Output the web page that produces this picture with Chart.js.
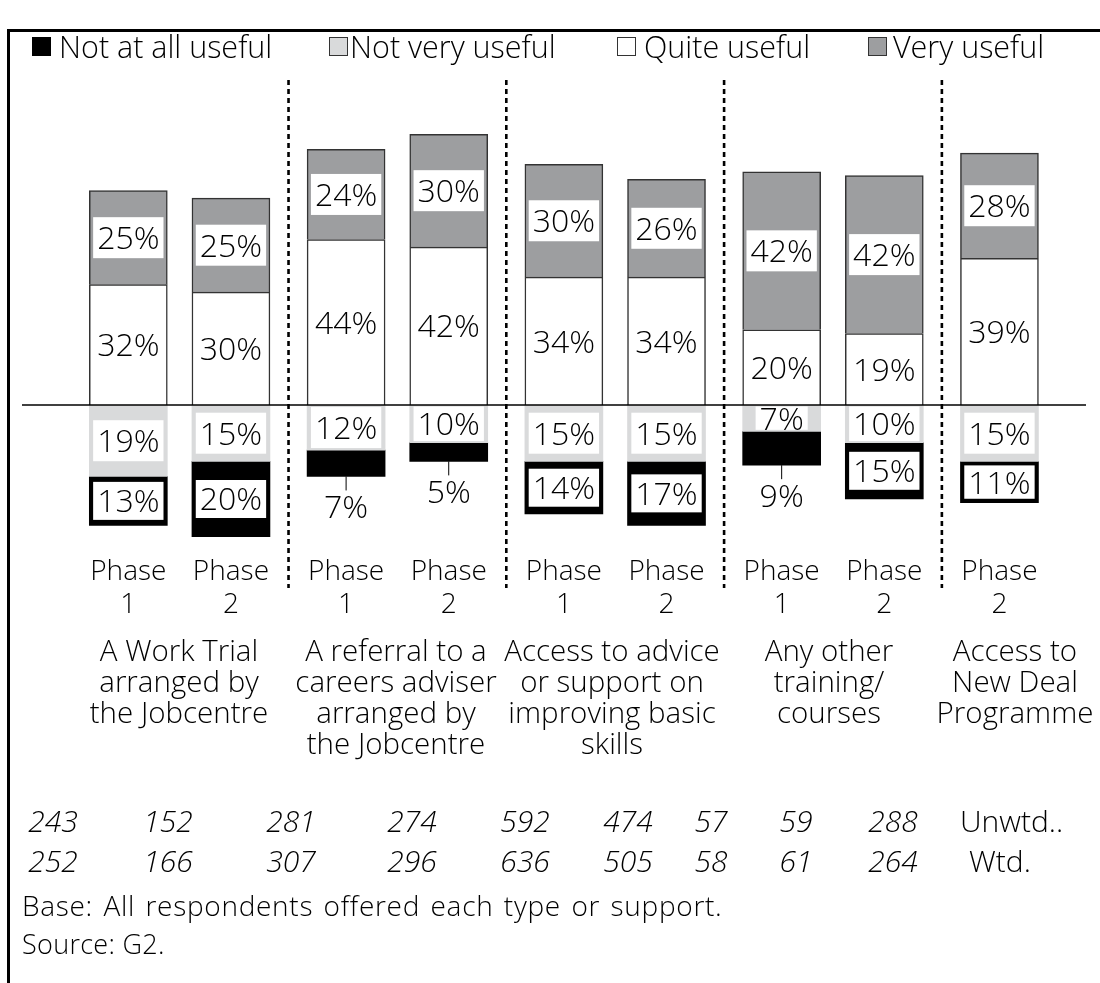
<!DOCTYPE html>
<html><head><meta charset="utf-8">
<script src="https://cdn.jsdelivr.net/npm/chart.js@4.4.0/dist/chart.umd.min.js"></script>
<style>
html,body{margin:0;padding:0;background:#fff;}
#wrap{position:relative;width:1100px;height:983px;overflow:hidden;font-family:"Open Sans",sans-serif;font-weight:300;color:#000;}
#c{position:absolute;left:0;top:0;}
.frame{position:absolute;left:7px;top:29px;width:1200px;height:1100px;border-top:3px solid #000;border-left:3px solid #000;}
.t{position:absolute;white-space:nowrap;}
.box{position:absolute;width:19px;height:19px;box-sizing:border-box;}
</style></head><body>
<div id="wrap">
<canvas id="c" width="1100" height="983"></canvas>
<div class="frame"></div>
<div id="overlay"></div>
</div>
<script>
// ---- data ----
const categories = ["Phase 1","Phase 2","Phase 1","Phase 2","Phase 1","Phase 2","Phase 1","Phase 2","Phase 2"];
const phaseNumbers = ["1","2","1","2","1","2","1","2","2"];
const groupOfBar = [0,0,1,1,2,2,3,3,4];
const groupLabels = [
  ["A Work Trial","arranged by","the Jobcentre"],
  ["A referral to a","careers adviser","arranged by","the Jobcentre"],
  ["Access to advice","or support on","improving basic","skills"],
  ["Any other","training/","courses"],
  ["Access to","New Deal","Programme"]
];
const seriesNames = ["Not at all useful","Not very useful","Quite useful","Very useful"];
const quiteUseful    = [32,30,44,42,34,34,20,19,39];
const veryUseful     = [25,25,24,30,30,26,42,42,28];
const notVeryUseful  = [19,15,12,10,15,15,7,10,15];
const notAtAllUseful = [13,20,7,5,14,17,9,15,11];
const unweightedBase = [243,152,281,274,592,474,57,59,288];
const weightedBase   = [252,166,307,296,636,505,58,61,264];
const baseRowLabels  = ["Unwtd..","Wtd."];
const footnotes = ["Base: All respondents offered each type or support.","Source: G2."];

// ---- styles / layout constants ----
const FONT = '"Open Sans", sans-serif';
const WEIGHT = '300';
const C_BLACK = '#000000', C_LIGHT = '#d9dadb', C_WHITE = '#ffffff', C_GREY = '#9d9ea0', C_EDGE = '#333333';
const GROUP_GAP = 0.122;   // extra space between groups, in bar slots

// position of each bar on the index axis: its slot plus the gaps of the groups before it
const slot = categories.map((c, i) => i + GROUP_GAP * groupOfBar[i]);
const toPoints = arr => arr.map((v, i) => ({x: slot[i], y: v}));

// ---- HTML text helpers ----
const overlay = document.getElementById('overlay');
function addText(txt, x, baseline, fs, opts = {}) {
  const d = document.createElement('div');
  d.className = 't';
  d.textContent = txt;
  d.style.fontSize = fs + 'px';
  d.style.lineHeight = fs + 'px';
  d.style.top = (baseline - 0.888 * fs) + 'px';
  if (opts.italic) d.style.fontStyle = 'italic';
  if (opts.ls) d.style.letterSpacing = opts.ls + 'px';
  if (opts.ws) d.style.wordSpacing = opts.ws + 'px';
  d.style.left = x + 'px';
  if (opts.center) { d.style.transform = 'translateX(-50%)'; d.style.textAlign = 'center'; }
  overlay.appendChild(d);
  return d;
}
function addBox(x, y, fill, border) {
  const b = document.createElement('div');
  b.className = 'box';
  b.style.left = x + 'px'; b.style.top = y + 'px';
  b.style.background = fill;
  if (border) b.style.border = '1.5px solid ' + border;
  overlay.appendChild(b);
}

// legend
const legendItems = [
  {box: 32, text: 59, fill: C_BLACK, border: null},
  {box: 329, text: 350, fill: C_LIGHT, border: '#333'},
  {box: 617, text: 644, fill: C_WHITE, border: '#333'},
  {box: 868, text: 893, fill: C_GREY, border: '#333'}
];
legendItems.forEach((it, i) => {
  addBox(it.box, 37, it.fill, it.border);
  addText(seriesNames[i], it.text, 58, 30.5);
});

// group labels
const groupCenters = [179, 396, 612, 829, 1015];
groupLabels.forEach((lines, g) => {
  lines.forEach((ln, k) => addText(ln, groupCenters[g], 661 + k * 31, 29.5, {center: true}));
});

// base rows
const baseCenters = [53, 168, 291, 412, 525, 628, 711, 796, 893];
unweightedBase.forEach((v, i) => addText(String(v), baseCenters[i], 833, 30, {italic: true, center: true}));
weightedBase.forEach((v, i) => addText(String(v), baseCenters[i], 873, 30, {italic: true, center: true}));
addText(baseRowLabels[0], 960, 833, 30);
addText(baseRowLabels[1], 969, 873, 30);
addText(footnotes[0], 22, 916, 28, {ls: 0.7, ws: 2.5});
addText(footnotes[1], 22, 954, 27, {ls: 0.3});

// ---- chart plugin: baseline, separators, labels ----
const decorPlugin = {
  id: 'decor',
  afterDatasetsDraw(chart) {
    const ctx = chart.ctx, xs = chart.scales.x, ys = chart.scales.y;
    const y0 = ys.getPixelForValue(0);
    ctx.save();
    // baseline
    ctx.strokeStyle = '#000'; ctx.lineWidth = 1.5; ctx.setLineDash([]);
    ctx.beginPath(); ctx.moveTo(22, y0); ctx.lineTo(1086, y0); ctx.stroke();
    // dashed group separators
    ctx.lineWidth = 2.6; ctx.setLineDash([5, 4]);
    [1, 3, 5, 7].forEach(i => {
      const xm = (xs.getPixelForValue(slot[i]) + xs.getPixelForValue(slot[i + 1])) / 2;
      ctx.beginPath(); ctx.moveTo(xm, 80); ctx.lineTo(xm, 588); ctx.stroke();
    });
    ctx.setLineDash([]);
    // value labels
    const fs = 32;
    ctx.font = WEIGHT + ' ' + fs + 'px ' + FONT;
    ctx.textAlign = 'center'; ctx.textBaseline = 'alphabetic';
    chart.data.datasets.forEach((ds, di) => {
      const meta = chart.getDatasetMeta(di);
      meta.data.forEach((bar, i) => {
        const v = Math.abs(ds.data[i].y);
        const top = Math.min(bar.y, bar.base), bot = Math.max(bar.y, bar.base);
        const h = bot - top, cx = bar.x, cy = (top + bot) / 2;
        const txt = v + '%';
        let mode = ds.labelMode;
        if (mode === 'auto') mode = v >= 11 ? 'box' : 'outside';
        const tw = ctx.measureText(txt).width;
        if (mode === 'outside') {
          ctx.strokeStyle = '#000'; ctx.lineWidth = 1;
          ctx.beginPath(); ctx.moveTo(cx, bot); ctx.lineTo(cx, bot + 14); ctx.stroke();
          ctx.fillStyle = '#000';
          ctx.fillText(txt, cx, bot + 30 + 0.357 * fs);
          return;
        }
        if (mode === 'box') {
          const bw = Math.min(bar.width - 5, tw + 8);
          const bh = ds.backgroundColor === C_BLACK ? Math.min(38, h - 8) : Math.min(41, h - 3);
          ctx.fillStyle = '#fff';
          ctx.fillRect(cx - bw / 2, cy - bh / 2, bw, bh);
        }
        ctx.fillStyle = '#000';
        ctx.fillText(txt, cx, cy + 0.357 * fs);
      });
    });
    // phase labels under bars
    ctx.font = WEIGHT + ' 28px ' + FONT;
    categories.forEach((c, i) => {
      const px = xs.getPixelForValue(slot[i]);
      ctx.fillText('Phase', px, 580);
      ctx.fillText(phaseNumbers[i], px, 613);
    });
    ctx.restore();
  }
};

const Y_MIN = -40, Y_MAX = 75;
const X_MIN = -0.5, X_MAX = 9.0;
new Chart(document.getElementById('c'), {
  type: 'bar',
  data: {
    datasets: [
      {label: seriesNames[2], data: toPoints(quiteUseful), backgroundColor: C_WHITE, borderColor: C_EDGE, borderWidth: 1.5, labelMode: 'plain'},
      {label: seriesNames[3], data: toPoints(veryUseful), backgroundColor: C_GREY, borderColor: C_EDGE, borderWidth: 1.5, labelMode: 'box'},
      {label: seriesNames[1], data: toPoints(notVeryUseful.map(v => -v)), backgroundColor: C_LIGHT, borderWidth: 0, labelMode: 'box'},
      {label: seriesNames[0], data: toPoints(notAtAllUseful.map(v => -v)), backgroundColor: C_BLACK, borderWidth: 0, labelMode: 'auto'}
    ]
  },
  options: {
    responsive: false, animation: false, devicePixelRatio: 1,
    datasets: {bar: {barThickness: 78}},
    layout: {padding: {left: 77, right: 48, top: 123, bottom: 427.6}},
    plugins: {legend: {display: false}, tooltip: {enabled: false}},
    scales: {
      x: {type: 'linear', display: false, stacked: true, min: X_MIN, max: X_MAX, offset: false},
      y: {display: false, stacked: true, min: Y_MIN, max: Y_MAX}
    }
  },
  plugins: [decorPlugin]
});
</script>
</body></html>
